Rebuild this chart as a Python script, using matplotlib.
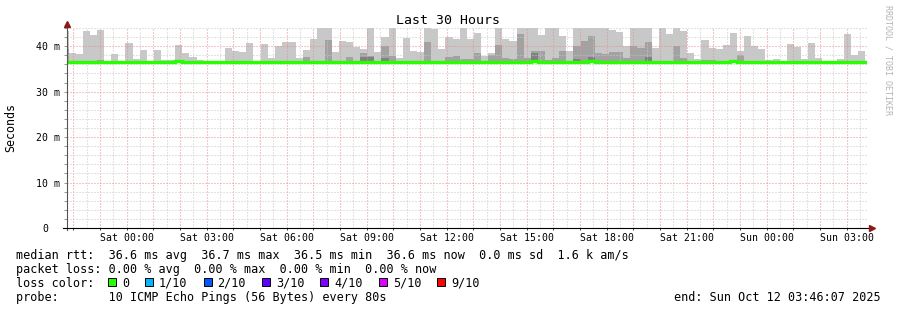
# SmokePing style latency graph - Last 30 Hours
import numpy as np
import pandas as pd
import matplotlib
matplotlib.use("Agg")
import matplotlib.pyplot as plt
import matplotlib.dates as mdates
import matplotlib.ticker as mticker
import matplotlib.transforms as mtransforms
from matplotlib.patches import Rectangle

plt.rcParams['font.family'] = ['DejaVu Sans Mono']
plt.rcParams['lines.scale_dashes'] = False

# time range of the graph
end_time = pd.Timestamp("2025-10-12 03:46:07")
start_time = end_time - pd.Timedelta(hours=30)
step = pd.Timedelta(minutes=16)          # 12 x 80s consolidation
first_edge = start_time + pd.Timedelta(minutes=3.5)

# smoke: highest ping per interval (ms) - 45 means clipped at top
rtt_max = [
    43.3, 38.5, 38.2, 43.4, 42.5, 43.6, 36.6, 38.3, 36.6, 40.7,
    37.2, 39.2, 36.6, 39.2, 37.0, 37.0, 40.3, 38.5, 37.7, 37.0,
    36.6, 36.6, 36.6, 39.6, 38.9, 38.7, 40.7, 36.6, 40.5, 37.3,
    40.0, 40.9, 40.9, 37.4, 39.2, 41.6, 45.0, 45.0, 38.7, 41.1,
    40.9, 39.8, 39.4, 45.0, 38.7, 42.0, 45.0, 37.3, 41.8, 38.9,
    38.7, 45.0, 43.8, 39.4, 42.0, 41.6, 45.0, 41.6, 42.9, 37.8,
    38.5, 45.0, 41.6, 41.1, 45.0, 45.0, 45.0, 42.5, 45.0, 45.0,
    42.2, 38.9, 45.0, 45.0, 45.0, 45.0, 45.0, 43.6, 43.1, 40.0,
    45.0, 45.0, 45.0, 39.6, 45.0, 42.7, 45.0, 43.3, 38.5, 37.2,
    41.4, 39.6, 39.4, 40.3, 42.9, 38.9, 42.2, 40.0, 39.4, 37.0,
    37.2, 36.6, 40.5, 39.8, 37.2, 40.7, 37.4, 36.6, 36.6, 37.2,
    42.7, 38.1, 38.9, 36.6,
]

# inner smoke band (medium grey)
rtt_mid = [
    39.3, 36.6, 36.6, 36.6, 36.6, 37.0, 36.6, 36.6, 36.6, 36.6,
    36.6, 36.6, 36.6, 36.6, 36.6, 36.6, 36.9, 36.6, 36.6, 36.6,
    36.6, 36.6, 36.6, 36.6, 36.6, 36.6, 36.6, 36.6, 36.6, 36.6,
    36.6, 36.6, 36.6, 36.6, 37.7, 36.6, 36.6, 41.4, 36.6, 36.6,
    37.7, 36.6, 38.5, 37.9, 36.6, 40.0, 37.9, 36.6, 36.6, 36.6,
    36.6, 40.9, 36.6, 36.6, 37.6, 37.8, 37.2, 37.2, 38.5, 36.6,
    38.1, 40.3, 37.4, 37.2, 42.7, 37.4, 38.9, 38.9, 37.0, 37.4,
    38.9, 36.6, 40.0, 41.1, 42.2, 38.5, 38.3, 38.7, 38.7, 37.4,
    40.0, 39.6, 40.9, 36.6, 36.6, 36.6, 40.0, 37.4, 36.6, 36.6,
    37.0, 37.0, 36.6, 36.6, 36.6, 38.1, 36.6, 36.6, 36.6, 36.6,
    36.6, 36.6, 36.6, 36.6, 36.6, 36.6, 36.6, 36.6, 36.6, 36.6,
    36.6, 36.6, 36.6, 36.6,
]

# innermost smoke band (dark grey)
rtt_low = [
    36.6, 36.6, 36.6, 36.6, 36.6, 36.6, 36.6, 36.6, 36.6, 36.6,
    36.6, 36.6, 36.6, 36.6, 36.6, 36.6, 36.6, 36.6, 36.6, 36.6,
    36.6, 36.6, 36.6, 36.6, 36.6, 36.6, 36.6, 36.6, 36.6, 36.6,
    36.6, 36.6, 36.6, 36.6, 36.6, 36.6, 36.6, 36.6, 36.6, 36.6,
    36.6, 36.6, 37.7, 37.7, 36.6, 37.5, 36.6, 36.6, 36.6, 36.6,
    36.6, 36.6, 36.6, 36.6, 36.6, 36.6, 36.6, 36.6, 36.6, 36.6,
    36.6, 36.6, 36.6, 36.6, 36.6, 36.6, 38.5, 36.6, 36.6, 36.6,
    36.6, 36.6, 37.2, 36.6, 37.6, 36.6, 36.6, 36.6, 36.6, 36.6,
    36.6, 36.6, 37.6, 36.6, 36.6, 36.6, 36.6, 36.6, 36.6, 36.6,
    36.6, 36.6, 36.6, 36.6, 36.6, 36.6, 36.6, 36.6, 36.6, 36.6,
    36.6, 36.6, 36.6, 36.6, 36.6, 36.6, 36.6, 36.6, 36.6, 36.6,
    36.6, 36.6, 36.6, 36.6,
]

# median rtt per interval
rtt_median = [36.6] * 114
for i in (16, 66, 74, 94):
    rtt_median[i] = 36.7

# legend statistics
rtt_avg, rtt_maxv, rtt_minv, rtt_now, rtt_sd, am_s = 36.6, 36.7, 36.5, 36.6, 0.0, 1.6
loss_avg, loss_max, loss_min, loss_now = 0.0, 0.0, 0.0, 0.0
loss_labels = ['0', '1/10', '2/10', '3/10', '4/10', '5/10', '9/10']
loss_colors = ['#26ff00', '#00b8ff', '#0059ff', '#5e00ff', '#7e00ff', '#dd00ff', '#ff0000']
y_ticks = [0, 10, 20, 30, 40]

W, H = 897, 310
fig = plt.figure(figsize=(W / 100, H / 100), dpi=100)
ax = fig.add_axes([67 / W, (H - 228) / H, 800 / W, 200 / H])

n = len(rtt_max)
edges = pd.date_range(first_edge - step, periods=n + 1, freq=step)
xe = mdates.date2num(edges.to_pydatetime())
med = np.array(rtt_median)

def ext(a):
    a = np.asarray(a, dtype=float)
    return np.append(a, a[-1])

ax.fill_between(xe, ext(med), ext(rtt_max), step='post', color='#c8c8c8', lw=0, zorder=1)
ax.fill_between(xe, ext(med), ext(rtt_mid), step='post', color='#a2a2a2', lw=0, zorder=1.1)
ax.fill_between(xe, ext(med), ext(rtt_low), step='post', color='#808080', lw=0, zorder=1.2)
ax.stairs(med, xe, baseline=None, color=loss_colors[0], lw=2.4, zorder=3)

ax.set_xlim(mdates.date2num(start_time.to_pydatetime()), mdates.date2num(end_time.to_pydatetime()))
ax.set_ylim(0, 44)

# axes ticks and grid
ax.xaxis.set_major_locator(mdates.HourLocator(interval=1))
ax.xaxis.set_minor_locator(mdates.MinuteLocator(byminute=[30]))

def xfmt(x, pos):
    d = mdates.num2date(x)
    return d.strftime('%a %H:%M') if d.hour % 3 == 0 else ''

ax.xaxis.set_major_formatter(mticker.FuncFormatter(xfmt))
ax.yaxis.set_major_locator(mticker.FixedLocator(y_ticks))
ax.yaxis.set_minor_locator(mticker.MultipleLocator(2))
ax.yaxis.set_major_formatter(mticker.FuncFormatter(lambda v, p: '0' if v == 0 else f'{v:.0f} m'))

ax.set_axisbelow(False)
ax.grid(which='major', color='#f08c8c', linestyle=(0, (0.72, 1.44)), lw=0.75)
ax.grid(which='minor', color='#c8c8c8', linestyle=(0, (0.72, 1.44)), lw=0.75)

for s in ax.spines.values():
    s.set_visible(False)

ax.tick_params(axis='y', which='both', direction='out', length=2.2, width=0.72,
               color='#999999', labelsize=7.1, pad=2.9)
ax.tick_params(axis='x', which='major', direction='out', length=1.5, width=0.72,
               color='#444444', labelsize=7.1, pad=2.4)
ax.tick_params(axis='x', which='minor', length=0)

# axis lines with arrows
ax.plot([0, 0], [-0.01, 1 + 3 / 200], transform=ax.transAxes, color='#555555',
        lw=0.8, clip_on=False, zorder=4)
ax.plot([-4 / 800, 1 + 3 / 800], [0, 0], transform=ax.transAxes, color='black',
        lw=0.8, clip_on=False, zorder=4)
ax.plot([0], [1 + 4.5 / 200], marker='^', ms=4, color='#8b1a1a', transform=ax.transAxes,
        clip_on=False, zorder=5)
ax.plot([1 + 5 / 800], [0], marker='>', ms=4, color='#8b1a1a', transform=ax.transAxes,
        clip_on=False, zorder=5)

# move the "0" label into the number column
zero_lab = ax.yaxis.get_major_ticks()[0].label1
zero_lab.set_transform(zero_lab.get_transform() +
                       mtransforms.ScaledTranslation(-12 / 100, 0, fig.dpi_scale_trans))

def px(x, y):
    return x / W, 1 - y / H

fig.text(*px(448, 24.5), 'Last 30 Hours', ha='center', va='baseline', size=9.5)
fig.text(*px(11, 127), 'Seconds', rotation=90, ha='center', va='center', size=8.4)
fig.text(*px(888, 60), 'RRDTOOL / TOBI OETIKER', rotation=-90, ha='center', va='center',
         size=6.0, color='#b4b4b4')

fs = 8.5
cw = fs * 100 / 72 * 0.602
line1 = (f"median rtt:  {rtt_avg:.1f} ms avg  {rtt_maxv:.1f} ms max  {rtt_minv:.1f} ms min  "
         f"{rtt_now:.1f} ms now  {rtt_sd:.1f} ms sd  {am_s:.1f} k am/s")
line2 = (f"packet loss: {loss_avg:.2f} % avg  {loss_max:.2f} % max  "
         f"{loss_min:.2f} % min  {loss_now:.2f} % now")
fig.text(*px(16, 258.5), line1, va='baseline', size=fs)
fig.text(*px(16, 272.7), line2, va='baseline', size=fs)
fig.text(*px(16, 286.9), 'loss color:', va='baseline', size=fs)
fig.text(*px(16, 301), 'probe:       10 ICMP Echo Pings (56 Bytes) every 80s', va='baseline', size=fs)
fig.text(*px(881, 301), 'end: Sun Oct 12 03:46:07 2025', ha='right', va='baseline', size=fs)

bx = 108
for lab, col in zip(loss_labels, loss_colors):
    fig.add_artist(Rectangle(px(bx, 285.5), 8 / W, 8 / H, transform=fig.transFigure,
                             facecolor=col, edgecolor='black', lw=0.7))
    fig.text(*px(bx + 14, 286.9), lab, va='baseline', size=fs)
    bx = bx + 14 + len(lab) * cw + 16

fig.savefig('out.png', dpi=100)
